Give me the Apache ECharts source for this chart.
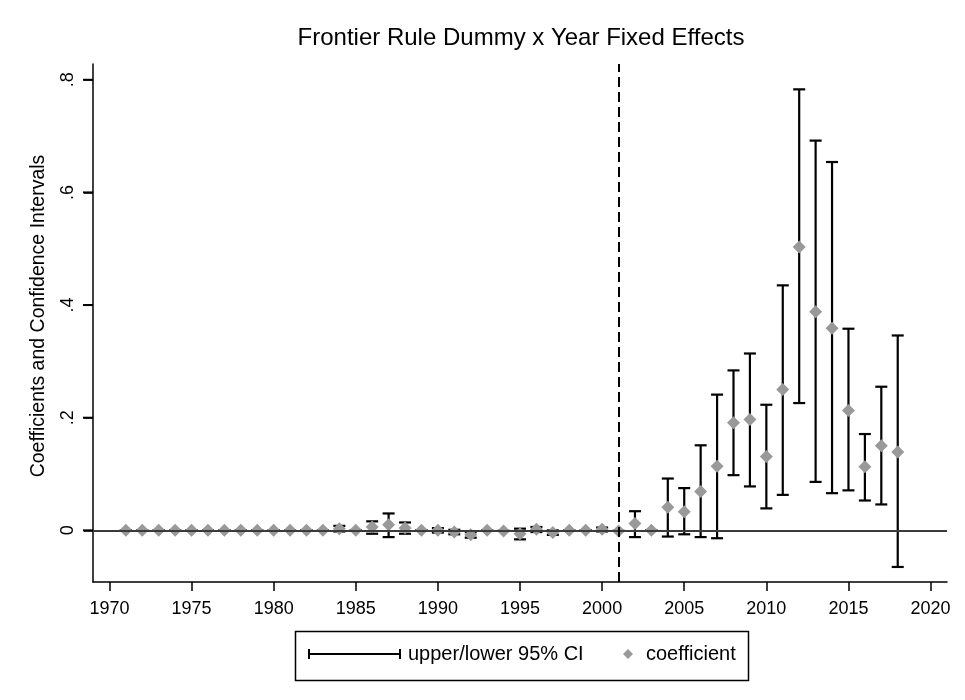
<!DOCTYPE html>
<html>
<head>
<meta charset="utf-8">
<script src="https://cdn.jsdelivr.net/npm/echarts@6/dist/echarts.min.js"></script>
<style>html,body{margin:0;padding:0;background:#fff}#c{width:965px;height:700px}</style>
</head>
<body>
<div id="c"></div>
<script>
const years = [1971,1972,1973,1974,1975,1976,1977,1978,1979,1980,1981,1982,1983,1984,1985,1986,1987,1988,1989,1990,1991,1992,1993,1994,1995,1996,1997,1998,1999,2000,2001,2002,2003,2004,2005,2006,2007,2008,2009,2010,2011,2012,2013,2014,2015,2016,2017,2018];
const coef = [0,0,0,0,0,0,0,0,0,0,0,0,0,0.003,0,0.006,0.010,0.004,0,0,-0.003,-0.008,0,-0.001,-0.006,0.002,-0.004,0,0,0.002,-0.001,0.012,0,0.041,0.033,0.069,0.114,0.191,0.197,0.131,0.250,0.503,0.388,0.359,0.213,0.113,0.150,0.139];
const lower = [0,0,0,0,0,0,0,0,0,0,0,0,0,-0.002,0,-0.006,-0.012,-0.006,0,-0.004,-0.007,-0.013,0,-0.001,-0.016,-0.003,-0.008,0,0,-0.002,-0.001,-0.012,0,-0.011,-0.007,-0.012,-0.014,0.098,0.078,0.039,0.063,0.226,0.086,0.066,0.071,0.053,0.046,-0.065];
const upper = [0,0,0,0,0,0,0,0,0,0,0,0,0,0.008,0,0.016,0.030,0.014,0,0.004,0.001,-0.003,0,-0.001,0.003,0.006,0.000,0,0,0.005,-0.001,0.034,0,0.092,0.075,0.151,0.241,0.284,0.314,0.223,0.435,0.783,0.692,0.654,0.358,0.171,0.255,0.346];
const xTicks = [1970,1975,1980,1985,1990,1995,2000,2005,2010,2015,2020];
const yTicks = [0,0.2,0.4,0.6,0.8];
const policyYear = 2001;
const xMin = 1969, xMax = 2021, yMin = -0.0917, yMax = 0.828;

const font = "'Liberation Sans', Arial, sans-serif";
const chart = echarts.init(document.getElementById('c'));
const ciData = years.map((y,i)=>[y, lower[i], upper[i]]);
const coefData = years.map((y,i)=>[y, coef[i]]);
const legendBox = {id: 'legendBox', type: 'rect', left: 293, top: 629, shape: {width: 453, height: 49},
  style: {fill: 'none', stroke: '#000', lineWidth: 1.5}};

chart.setOption({
  animation: false,
  backgroundColor: '#fff',
  title: {
    text: 'Frontier Rule Dummy x Year Fixed Effects',
    left: 521, top: 26, padding: 0, textAlign: 'center',
    textStyle: {fontFamily: font, fontSize: 24, fontWeight: 'normal', color: '#000'}
  },
  grid: {left: 93, right: 18, top: 64, bottom: 118},
  xAxis: {
    type: 'value', min: xMin, max: xMax,
    axisLine: {onZero: false, lineStyle: {color: '#000', width: 1.5}},
    axisTick: {show: true, length: 9, customValues: xTicks, lineStyle: {color: '#000', width: 1.5}},
    axisLabel: {customValues: xTicks, fontFamily: font, fontSize: 18, color: '#000', margin: 18,
      formatter: v => String(v)},
    splitLine: {show: false}
  },
  yAxis: {
    type: 'value', min: yMin, max: yMax,
    name: 'Coefficients and Confidence Intervals',
    nameLocation: 'middle', nameRotate: 90, nameGap: 44,
    nameTextStyle: {fontFamily: font, fontSize: 19.5, color: '#000', padding: [0,0,0,14]},
    axisLine: {show: true, onZero: false, lineStyle: {color: '#000', width: 1.5}},
    axisTick: {show: true, length: 9, customValues: yTicks, lineStyle: {color: '#000', width: 1.5}},
    axisLabel: {customValues: yTicks, rotate: 90, fontFamily: font, fontSize: 18, color: '#000', margin: 16,
      formatter: v => v === 0 ? '0' : String(v).replace(/^0/, '')},
    splitLine: {show: false}
  },
  legend: [
    {data: ['upper/lower 95% CI'], left: 303, top: 639, itemWidth: 93, itemHeight: 10,
     icon: 'path://M0,0h2v10h-2z M0,4h93v2h-93z M91,0h2v10h-2z',
     textStyle: {fontFamily: font, fontSize: 20, color: '#000', padding: [0,0,0,2]}},
    {data: ['coefficient'], left: 618, top: 639, itemWidth: 10, itemHeight: 10, icon: 'diamond',
     textStyle: {fontFamily: font, fontSize: 20, color: '#000', padding: [0,0,0,8]}}
  ],
  graphic: [legendBox],
  series: [
    {
      name: 'upper/lower 95% CI', type: 'custom', z: 2,
      itemStyle: {color: '#000'},
      data: ciData,
      encode: {x: 0, y: [1, 2]},
      renderItem: function (params, api) {
        const x = api.value(0);
        const pLo = api.coord([x, api.value(1)]);
        const pHi = api.coord([x, api.value(2)]);
        const hw = 6;
        const st = {stroke: '#000', lineWidth: 2.2};
        return {type: 'group', children: [
          {type: 'line', shape: {x1: pLo[0], y1: pLo[1], x2: pHi[0], y2: pHi[1]}, style: st},
          {type: 'line', shape: {x1: pLo[0]-hw, y1: pLo[1], x2: pLo[0]+hw, y2: pLo[1]}, style: st},
          {type: 'line', shape: {x1: pHi[0]-hw, y1: pHi[1], x2: pHi[0]+hw, y2: pHi[1]}, style: st}
        ]};
      },
      markLine: {
        silent: true, symbol: 'none', label: {show: false},
        data: [
          {yAxis: 0, lineStyle: {color: '#3a3a3a', width: 2, type: 'solid'}},
          {xAxis: policyYear, lineStyle: {color: '#000', width: 2, type: [10, 5]}}
        ]
      }
    },
    {
      name: 'coefficient', type: 'scatter', z: 3,
      symbol: 'diamond', symbolSize: 13,
      itemStyle: {color: '#999999', opacity: 1},
      data: coefData
    }
  ]
});

// y-axis tick marks placed through the chart's own y scale
const yTickLines = yTicks.map((v, i) => {
  const p = chart.convertToPixel({xAxisIndex: 0, yAxisIndex: 0}, [xMin, v]);
  return {id: 'ytick' + i, type: 'line', z: 10,
    shape: {x1: p[0] - 10, y1: p[1], x2: p[0], y2: p[1]},
    style: {stroke: '#000', lineWidth: 2}};
});
chart.setOption({graphic: [legendBox].concat(yTickLines)});
</script>
</body>
</html>
